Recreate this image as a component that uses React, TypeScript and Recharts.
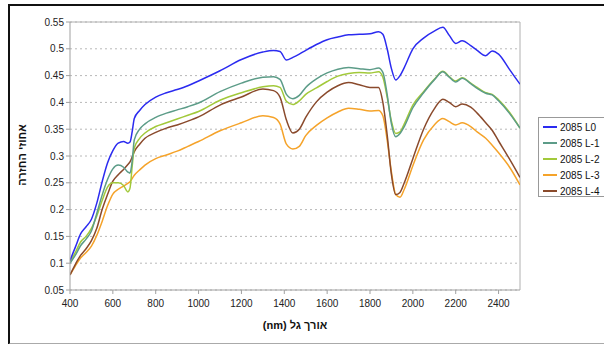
import React from "react";
import { LineChart, Line, XAxis, YAxis, CartesianGrid, ReferenceLine } from "recharts";

const wavelengths = [400, 425, 450, 475, 500, 525, 550, 575, 600, 625, 650, 670, 680, 690, 700, 725, 750, 800, 850, 900, 950, 1000, 1100, 1200, 1300, 1350, 1380, 1410, 1440, 1470, 1500, 1550, 1600, 1650, 1700, 1750, 1800, 1840, 1860, 1880, 1900, 1920, 1940, 1960, 2000, 2050, 2100, 2140, 2170, 2200, 2230, 2270, 2300, 2340, 2370, 2400, 2450, 2500];

const L0 = [0.105, 0.13, 0.155, 0.168, 0.182, 0.212, 0.252, 0.287, 0.31, 0.324, 0.327, 0.324, 0.326, 0.345, 0.37, 0.385, 0.396, 0.41, 0.418, 0.424, 0.431, 0.44, 0.459, 0.48, 0.494, 0.497, 0.495, 0.479, 0.484, 0.49, 0.497, 0.508, 0.517, 0.522, 0.526, 0.527, 0.528, 0.532, 0.527, 0.5, 0.463, 0.442, 0.45, 0.465, 0.5, 0.52, 0.533, 0.54, 0.525, 0.51, 0.515, 0.506, 0.497, 0.487, 0.496, 0.49, 0.462, 0.434];
const L1 = [0.1, 0.115, 0.133, 0.145, 0.16, 0.193, 0.227, 0.256, 0.276, 0.283, 0.279, 0.27, 0.268, 0.29, 0.33, 0.35, 0.36, 0.372, 0.38, 0.386, 0.392, 0.399, 0.42, 0.436, 0.447, 0.448, 0.443, 0.415, 0.407, 0.413, 0.428, 0.444, 0.455, 0.462, 0.465, 0.463, 0.461, 0.464, 0.456, 0.415, 0.36, 0.336, 0.342, 0.355, 0.39, 0.418, 0.442, 0.457, 0.447, 0.438, 0.445, 0.435, 0.426, 0.417, 0.414, 0.403, 0.38, 0.352];
const L2 = [0.103, 0.12, 0.14, 0.15, 0.165, 0.188, 0.217, 0.242, 0.25, 0.25, 0.245, 0.233, 0.24, 0.28, 0.315, 0.333, 0.343, 0.355, 0.362, 0.369, 0.376, 0.383, 0.404, 0.418, 0.429, 0.431, 0.428, 0.402, 0.396, 0.403, 0.415, 0.427, 0.439, 0.449, 0.454, 0.456, 0.455, 0.457, 0.447, 0.41, 0.365, 0.342, 0.345, 0.36, 0.395, 0.42, 0.443, 0.458, 0.448, 0.44, 0.446, 0.436, 0.428, 0.418, 0.415, 0.405, 0.382, 0.352];
const L3 = [0.078, 0.095, 0.11, 0.12, 0.132, 0.152, 0.178, 0.207, 0.229, 0.238, 0.244, 0.249, 0.252, 0.258, 0.264, 0.274, 0.283, 0.295, 0.302, 0.309, 0.318, 0.327, 0.347, 0.362, 0.375, 0.372, 0.36, 0.322, 0.313, 0.318, 0.338, 0.357, 0.371, 0.382, 0.389, 0.387, 0.384, 0.385, 0.375, 0.33, 0.27, 0.228, 0.223, 0.238, 0.282, 0.33, 0.358, 0.37, 0.364, 0.358, 0.362, 0.355, 0.345, 0.333, 0.32, 0.306, 0.28, 0.246];
const L4 = [0.078, 0.098, 0.115, 0.127, 0.142, 0.165, 0.2, 0.228, 0.253, 0.265, 0.275, 0.284, 0.289, 0.298, 0.308, 0.322, 0.333, 0.344, 0.352, 0.358, 0.365, 0.373, 0.395, 0.41, 0.425, 0.422, 0.41, 0.367, 0.343, 0.35, 0.372, 0.401, 0.419, 0.431, 0.437, 0.433, 0.428, 0.428, 0.4, 0.34, 0.265, 0.228, 0.232, 0.25, 0.295, 0.35, 0.388, 0.406, 0.4, 0.392, 0.397, 0.391, 0.38, 0.362, 0.348, 0.328, 0.295, 0.26];

const xTicks = [400, 600, 800, 1000, 1200, 1400, 1600, 1800, 2000, 2200, 2400];
const yTicks = [0.05, 0.1, 0.15, 0.2, 0.25, 0.3, 0.35, 0.4, 0.45, 0.5, 0.55];

const seriesNames = ["2085 L0", "2085 L-1", "2085 L-2", "2085 L-3", "2085 L-4"];
const seriesKeys = ["L0", "L1", "L2", "L3", "L4"];
const seriesValues = [L0, L1, L2, L3, L4];
const seriesColors = ["#2b2bf0", "#5c9c88", "#a2c93a", "#f5a32a", "#8a4a2c"];
const drawOrder = [3, 4, 2, 1, 0];

const data = wavelengths.map((nm, i) => {
  const row: Record<string, number> = { nm };
  seriesKeys.forEach((k, s) => {
    row[k] = seriesValues[s][i];
  });
  return row;
});

const font = '"Liberation Sans", Arial, sans-serif';

export default function App() {
  return (
    <div style={{ position: "absolute", left: 0, top: 0, width: 604, height: 344, background: "#fff", overflow: "hidden", fontFamily: font }}>
      <div style={{ position: "absolute", left: 8, top: 4, width: 640, height: 337, borderLeft: "2px solid #111", borderTop: "2px solid #111", borderBottom: "2px solid #aaa" }} />
      <LineChart
        width={604}
        height={344}
        data={data}
        margin={{ top: 22, right: 84, bottom: 24, left: 0 }}
        style={{ position: "absolute", left: 0, top: 0 }}
      >
        <CartesianGrid vertical={false} stroke="#b8b8b8" strokeDasharray="2 3" />
        <XAxis
          dataKey="nm"
          type="number"
          domain={[400, 2500]}
          ticks={xTicks}
          height={30}
          tickSize={4}
          axisLine={{ stroke: "#a0a0a0" }}
          tickLine={{ stroke: "#a0a0a0" }}
          tick={{ fill: "#222", fontSize: 10, fontFamily: font }}
          tickMargin={6}
          allowDataOverflow
        />
        <YAxis
          type="number"
          domain={[0.05, 0.55]}
          ticks={yTicks}
          width={70}
          tickSize={4}
          axisLine={{ stroke: "#a0a0a0" }}
          tickLine={{ stroke: "#a0a0a0" }}
          tick={{ fill: "#222", fontSize: 10, fontFamily: font }}
          tickFormatter={(v: number) => String(Number(v.toFixed(2)))}
          allowDataOverflow
        />
        <ReferenceLine y={0.55} stroke="#b0b0b0" />
        <ReferenceLine x={2500} stroke="#b0b0b0" />
        {drawOrder.map((s) => (
          <Line
            key={seriesKeys[s]}
            dataKey={seriesKeys[s]}
            name={seriesNames[s]}
            type="monotone"
            stroke={seriesColors[s]}
            strokeWidth={1.5}
            dot={false}
            isAnimationActive={false}
          />
        ))}
      </LineChart>
      <div
        style={{
          position: "absolute",
          left: 22,
          top: 155,
          transform: "translate(-50%, -50%) rotate(-90deg)",
          fontSize: 11,
          fontWeight: "bold",
          color: "#111",
          whiteSpace: "nowrap",
          direction: "rtl",
        }}
      >
        אחוזי החזרה
      </div>
      <div
        style={{
          position: "absolute",
          left: 295,
          top: 325,
          transform: "translate(-50%, -50%)",
          fontSize: 11,
          fontWeight: "bold",
          color: "#111",
          whiteSpace: "nowrap",
          direction: "rtl",
        }}
      >
        אורך גל (nm)
      </div>
      <div
        style={{
          position: "absolute",
          left: 538,
          top: 117,
          width: 70,
          height: 80,
          border: "1px solid #999",
          boxSizing: "border-box",
          background: "#fff",
        }}
      >
        {seriesNames.map((n, i) => (
          <div key={n} style={{ position: "absolute", left: 4, top: 2 + i * 16, height: 14, display: "flex", alignItems: "center", fontSize: 10, color: "#111", whiteSpace: "nowrap" }}>
            <span style={{ display: "inline-block", width: 14, height: 0, borderTop: `2px solid ${seriesColors[i]}`, marginRight: 3 }} />
            {n}
          </div>
        ))}
      </div>
    </div>
  );
}
